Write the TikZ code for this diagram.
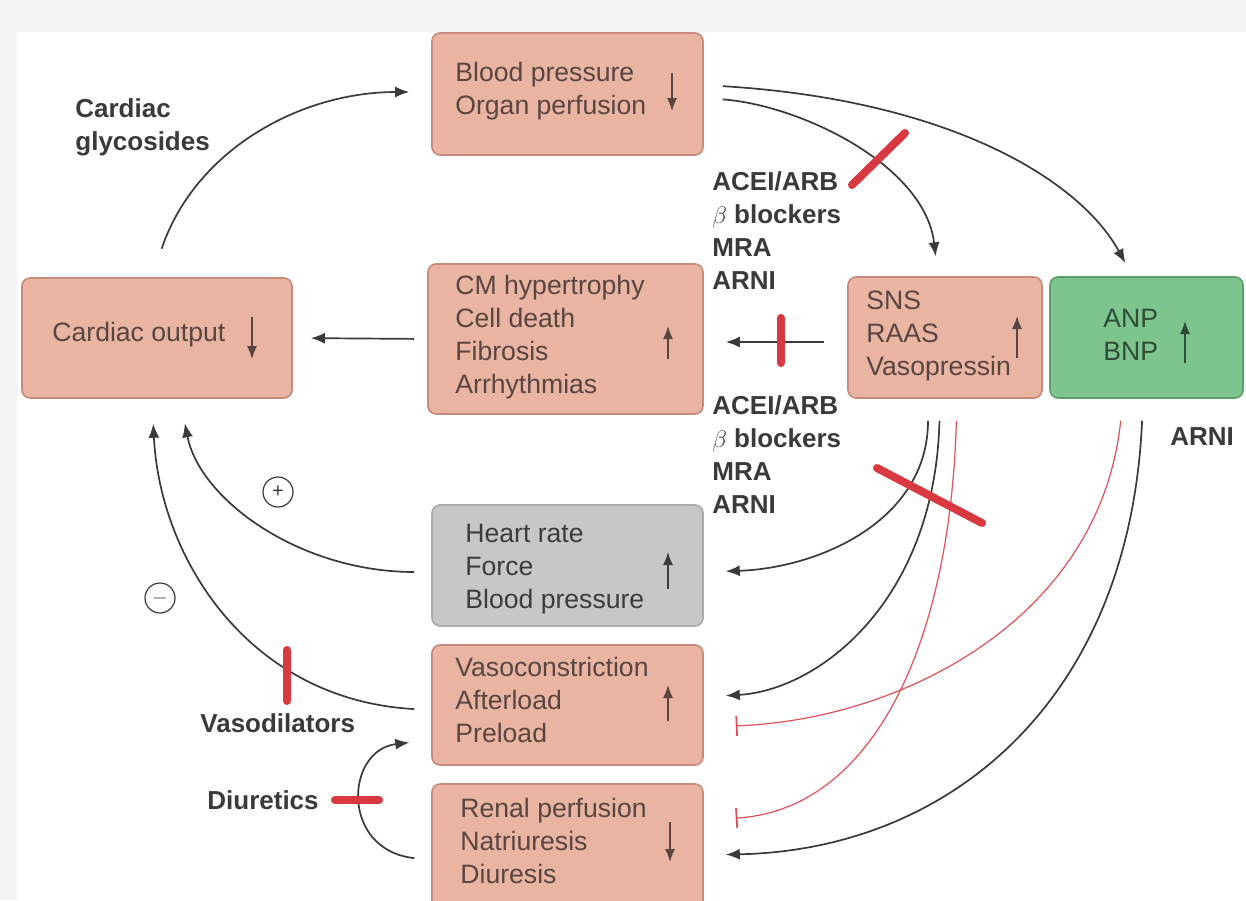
\documentclass[tikz,border=0pt]{standalone}
\usepackage{fontspec}
\setmainfont{Liberation Sans}
\usetikzlibrary{arrows.meta}

\definecolor{salmon}{HTML}{E9B4A2}
\definecolor{salmonline}{HTML}{C98A7E}
\definecolor{salmontext}{HTML}{5A4541}
\definecolor{greenbox}{HTML}{7DC48E}
\definecolor{greenline}{HTML}{5C9E6C}
\definecolor{greentext}{HTML}{2F4C37}
\definecolor{graybox}{HTML}{C6C7C9}
\definecolor{grayline}{HTML}{ABABAD}
\definecolor{graytext}{HTML}{3C3C3E}
\definecolor{ink}{HTML}{3A3A3A}
\definecolor{blockred}{HTML}{D8383F}
\definecolor{thinred}{HTML}{E0505A}
\definecolor{paper}{HTML}{F4F4F4}

\tikzset{
  box/.style={draw=salmonline, fill=salmon, rounded corners=4pt, line width=0.8pt, inner sep=0pt},
  greenbox/.style={box, draw=greenline, fill=greenbox},
  graybox/.style={box, draw=grayline, fill=graybox},
  boxtext/.style={anchor=west, align=left, inner sep=0pt, text=salmontext, font=\fontsize{13.3}{16.5}\selectfont},
  drug/.style={anchor=west, align=left, inner sep=0pt, text=ink, font=\fontsize{13}{16.5}\selectfont\bfseries},
  flow/.style={draw=ink, line width=0.85pt, -{Latex[length=7pt,width=5.5pt]}},
  inhibit/.style={draw=thinred, line width=0.6pt, -{Bar[width=10pt,line width=0.9pt]}},
  block/.style={draw=blockred, line width=4pt, line cap=round},
  level/.style={draw=salmontext, line width=0.7pt, -{Latex[length=6.5pt,width=5pt]}},
  sign/.style={circle, draw=ink, line width=0.6pt, minimum size=15pt, inner sep=0pt, text=ink, font=\fontsize{10}{10}\selectfont},
}

\begin{document}
\begin{tikzpicture}[x=0.5pt, y=-0.5pt]
	\clip (0,0) rectangle (1246,900);
	\fill[paper] (0,0) rectangle (1246,900);
	\fill[white] (17,32) rectangle (1246,900);

	% boxes
	\node[box, minimum width=135.5pt, minimum height=61pt] (bp) at (567.5,94) {};
	\node[box, minimum width=135pt, minimum height=60pt] (co) at (157,338) {};
	\node[box, minimum width=137.5pt, minimum height=75pt] (cm) at (565.5,339) {};
	\node[box, minimum width=97pt, minimum height=60.5pt] (sns) at (945,337.5) {};
	\node[greenbox, minimum width=96.5pt, minimum height=60.5pt] (anp) at (1146.5,337.5) {};
	\node[graybox, minimum width=135.5pt, minimum height=60.5pt] (hr) at (567.5,565.5) {};
	\node[box, minimum width=135.5pt, minimum height=60pt] (vc) at (567.5,705) {};
	\node[box, minimum width=135.5pt, minimum height=63pt] (rp) at (567.5,847) {};

	% box texts
	\node[boxtext] (bptext) at (455,91) {Blood pressure\\Organ perfusion};
	\node[boxtext] (cotext) at (52,335) {Cardiac output};
	\node[boxtext] (cmtext) at (455,337.5) {CM hypertrophy\\Cell death\\Fibrosis\\Arrhythmias};
	\node[boxtext] (snstext) at (866,336) {SNS\\RAAS\\Vasopressin};
	\node[boxtext, text=greentext] (anptext) at (1103,335) {ANP\\BNP};
	\node[boxtext, text=graytext] (hrtext) at (465,569) {Heart rate\\Force\\Blood pressure};
	\node[boxtext] (vctext) at (455,700) {Vasoconstriction\\Afterload\\Preload};
	\node[boxtext] (rptext) at (460,841) {Renal perfusion\\Natriuresis\\Diuresis};

	% up and down marks
	\draw[level] (672,73) -- (672,111);
	\draw[level] (252,317) -- (252,359);
	\draw[level] (668,359) -- (668,326);
	\draw[level] (1017,358) -- (1017,316);
	\draw[level, draw=greentext] (1185,363) -- (1185,321);
	\draw[level, draw=graytext] (668,589) -- (668,552);
	\draw[level] (668,721) -- (668,685);
	\draw[level] (670,822) -- (670,862);

	% drug labels
	\node[drug] (glyco) at (75,127) {Cardiac\\glycosides};
	\node[drug] (drugsa) at (712,231) {ACEI/ARB\\$\beta$ blockers\\MRA\\ARNI};
	\node[drug] (drugsb) at (712,455) {ACEI/ARB\\$\beta$ blockers\\MRA\\ARNI};
	\node[drug] (arni) at (1170,437) {ARNI};
	\node[drug] (vasod) at (200,723) {Vasodilators};
	\node[drug] (diur) at (207,800) {Diuretics};
	\node[sign] (plus) at (278,492) {+};
	\node[sign] (minus) at (160,598) {$-$};

	% connectors
	\draw[flow, shorten <=15pt, shorten >=11pt] ([xshift=-2.5pt]co.north) .. controls (195,150) and (300,92) .. ([yshift=1pt]bp.west);
	\draw[flow, shorten <=9.5pt, shorten >=7.5pt] ([yshift=4.5pt]bp.east) .. controls (950,100) and (1080,180) .. ([xshift=-7pt]anp.north);
	\draw[flow, shorten <=9.5pt, shorten >=10pt] ([yshift=-2pt]bp.east) .. controls (800,105) and (925,165) .. ([xshift=-3.5pt]sns.north);
	\draw[flow, shorten <=11.5pt, shorten >=11pt] ([yshift=-2.25pt]sns.west) -- ([yshift=-1.5pt]cm.east);
	\draw[flow, shorten <=6.5pt, shorten >=9pt] (cm.west) -- (co.east);
	\draw[flow, shorten <=8.5pt, shorten >=12.5pt] ([yshift=-3.25pt]hr.west) .. controls (300,572) and (200,500) .. ([xshift=11.5pt]co.south);
	\draw[flow, shorten <=8.5pt, shorten >=12.5pt] ([yshift=-2.5pt]vc.west) .. controls (250,700) and (160,560) .. ([xshift=-2.5pt]co.south);
	\draw[flow, shorten <=8.5pt, shorten >=11pt] ([yshift=-6.5pt]rp.west) .. controls (340,850) and (345,750) .. ([yshift=-17.5pt]vc.west);
	\draw[flow, shorten <=11pt, shorten >=11pt] ([xshift=-8.5pt]sns.south) .. controls (928,520) and (820,568) .. ([yshift=-3.25pt]hr.east);
	\draw[flow, shorten <=11pt, shorten >=11pt] ([xshift=-2.5pt]sns.south) .. controls (935,600) and (820,690) .. ([yshift=4pt]vc.east);
	\draw[inhibit, shorten <=11pt, shorten >=16pt] ([xshift=6pt]sns.south) .. controls (950,650) and (870,810) .. ([yshift=13.5pt]rp.east);
	\draw[inhibit, shorten <=11pt, shorten >=16pt] ([xshift=-11.75pt]anp.south) .. controls (1100,620) and (900,720) .. ([yshift=-11pt]vc.east);
	\draw[flow, shorten <=11pt, shorten >=11pt] ([xshift=-1.75pt]anp.south) .. controls (1130,700) and (950,850) .. ([yshift=-4pt]rp.east);

	% blocking bars
	\draw[block] (852,185) -- (905,133);
	\draw[block] (781,318) -- (781,363);
	\draw[block] (877,468) -- (982,523);
	\draw[block] (287,650) -- (287,701);
	\draw[block] (335,800) -- (379,800);
\end{tikzpicture}
\end{document}
